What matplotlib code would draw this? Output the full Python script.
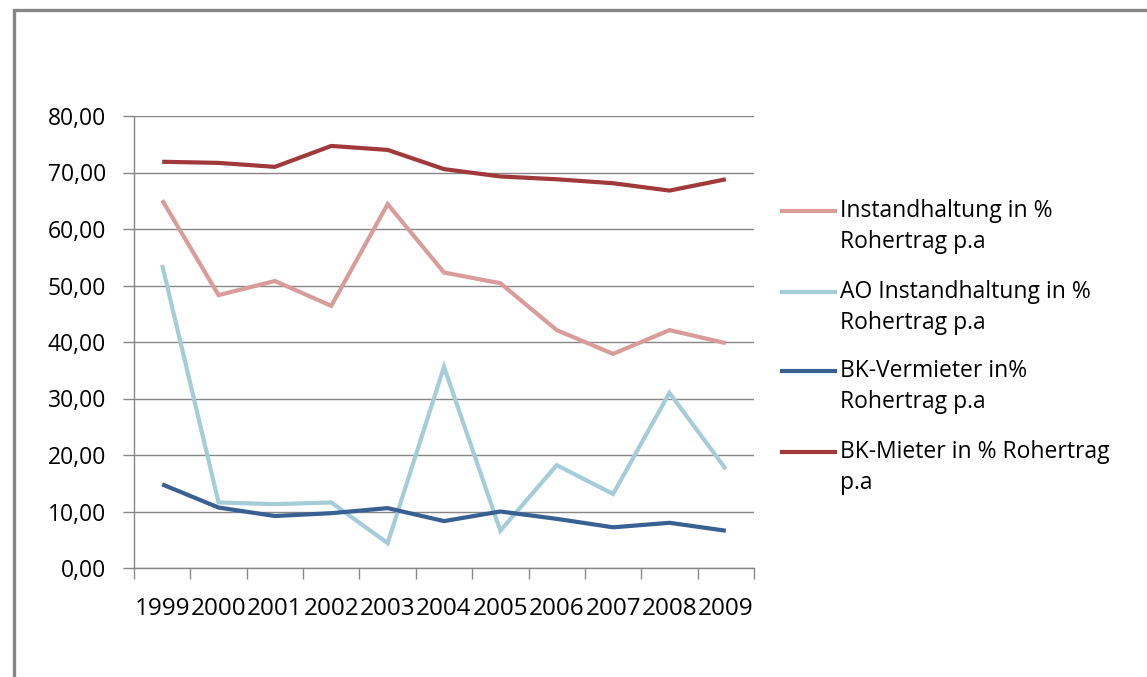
import matplotlib
matplotlib.use('Agg')
import matplotlib.pyplot as plt
from matplotlib.patches import Rectangle
from matplotlib.lines import Line2D

years = ['1999', '2000', '2001', '2002', '2003', '2004', '2005', '2006', '2007', '2008', '2009']

instandhaltung = [65.1, 48.3, 50.8, 46.4, 64.4, 52.3, 50.4, 42.1, 37.9, 42.1, 39.8]
ao_instandhaltung = [53.6, 11.6, 11.3, 11.6, 4.4, 35.6, 6.6, 18.2, 13.1, 31.0, 17.5]
bk_vermieter = [14.8, 10.7, 9.2, 9.7, 10.6, 8.3, 10.0, 8.7, 7.2, 8.0, 6.6]
bk_mieter = [71.9, 71.7, 71.0, 74.7, 74.0, 70.6, 69.3, 68.8, 68.1, 66.8, 68.8]

series_labels = ['Instandhaltung in %\nRohertrag p.a',
                 'AO Instandhaltung in %\nRohertrag p.a',
                 'BK-Vermieter in%\nRohertrag p.a',
                 'BK-Mieter in % Rohertrag\np.a']
series_colors = ['#D99C9A', '#A5CCD9', '#386092', '#A0393A']

plt.rcParams['font.family'] = ['Open Sans', 'DejaVu Sans']

W, H = 1147, 677
fig = plt.figure(figsize=(W / 100, H / 100), dpi=100)
ax = fig.add_axes([134 / W, 1 - 568 / H, (754 - 134) / W, (568 - 116) / H])

grey = '#868686'
x = [i + 0.5 for i in range(len(years))]
for vals, col in zip([instandhaltung, ao_instandhaltung, bk_vermieter, bk_mieter], series_colors):
    ax.plot(x, vals, color=col, lw=3.0, solid_joinstyle='miter', solid_capstyle='butt')

ax.set_xlim(0, len(years))
ax.set_ylim(0, 80)
ax.set_yticks(range(0, 81, 10))
ax.set_yticklabels([f'{v},00' for v in range(0, 81, 10)])
ax.set_xticks(range(len(years) + 1))
ax.set_xticklabels([])
ax.set_xticks(x, minor=True)
ax.set_xticklabels(years, minor=True)
ax.tick_params(axis='x', which='minor', length=0, pad=21, labelsize=17.5)
ax.tick_params(axis='x', which='major', length=8, width=1, color=grey)
ax.tick_params(axis='y', length=8, width=1, color=grey, pad=12, labelsize=16.5)
ax.grid(axis='y', color=grey, lw=1)
ax.set_axisbelow(True)
for s in ['top', 'right']:
    ax.spines[s].set_visible(False)
for s in ['left', 'bottom']:
    ax.spines[s].set_color(grey)
    ax.spines[s].set_linewidth(1)

# legend drawn by hand so the sample line sits beside the first text line
legend_y = [211, 292, 371, 452]
for lab, col, ly in zip(series_labels, series_colors, legend_y):
    fig.add_artist(Line2D([782 / W, 835 / W], [1 - ly / H, 1 - ly / H], color=col, lw=3.0))
    fig.text(840 / W, 1 - (ly - 12) / H, lab, fontsize=16.5, va='top', ha='left',
             linespacing=1.4)

fig.add_artist(Rectangle((13.5 / W, -0.1), 1.2, 1 - 9.5 / H + 0.1, transform=fig.transFigure,
                         fill=False, edgecolor=grey, lw=2.4))

fig.savefig('out.png', dpi=100)
